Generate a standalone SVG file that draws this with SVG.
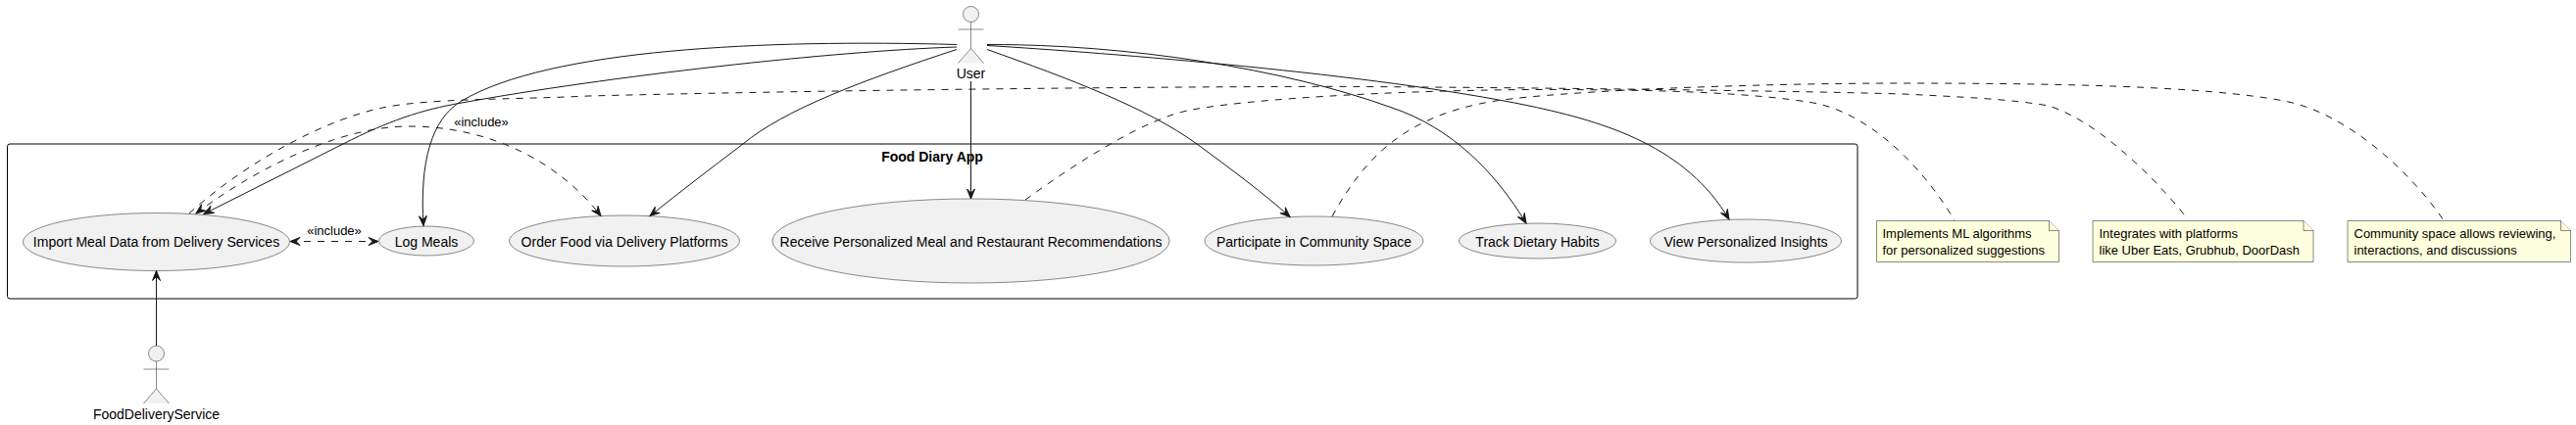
<svg xmlns="http://www.w3.org/2000/svg" width="2628" height="434" viewBox="0 0 2628 434">
<style>
text{font-family:"Liberation Sans",Arial,sans-serif;fill:#000;opacity:.999}
.uc{font-size:14px;text-anchor:middle}
.n{font-size:13px}
.e{fill:#F1F1F1;stroke:#181818;stroke-width:.5}
.a{fill:#F1F1F1;stroke:#181818;stroke-width:.5}
.l{fill:none;stroke:#181818;stroke-width:1}
.d{fill:none;stroke:#181818;stroke-width:1;stroke-dasharray:7 7}
.note{fill:#FEFFDD;stroke:#181818;stroke-width:.5}
</style>
<defs>
<marker id="h" markerUnits="userSpaceOnUse" markerWidth="14" markerHeight="12" viewBox="-11 -6 13 12" refX="0" refY="0" orient="auto-start-reverse"><path d="M0,0L-10,-4L-6,0L-10,4Z" fill="#181818" stroke="#181818" stroke-width="1"/></marker>
</defs>
<g id="boundary"><rect x="7.5" y="147" width="1887.5" height="158" rx="2.5" fill="none" stroke="#000" stroke-width="1"/><text x="951" y="165" font-size="14" font-weight="bold" text-anchor="middle">Food Diary App</text></g>
<g id="uc-import"><ellipse class="e" cx="159.5" cy="247" rx="136" ry="29.5"/><text class="uc" x="159.5" y="252">Import Meal Data from Delivery Services</text></g>
<g id="uc-log"><ellipse class="e" cx="435" cy="246" rx="48.5" ry="15"/><text class="uc" x="435" y="252">Log Meals</text></g>
<g id="uc-order"><ellipse class="e" cx="637" cy="246" rx="117.5" ry="26"/><text class="uc" x="637" y="252">Order Food via Delivery Platforms</text></g>
<g id="uc-receive"><ellipse class="e" cx="990.5" cy="246" rx="202.5" ry="43"/><text class="uc" x="990.5" y="252">Receive Personalized Meal and Restaurant Recommendations</text></g>
<g id="uc-participate"><ellipse class="e" cx="1340.5" cy="246" rx="111.5" ry="25"/><text class="uc" x="1340.5" y="252">Participate in Community Space</text></g>
<g id="uc-track"><ellipse class="e" cx="1568.5" cy="246" rx="80" ry="18"/><text class="uc" x="1568.5" y="252">Track Dietary Habits</text></g>
<g id="uc-view"><ellipse class="e" cx="1781" cy="246" rx="97.5" ry="22"/><text class="uc" x="1781" y="252">View Personalized Insights</text></g>
<g id="actor-user"><circle class="a" cx="990.5" cy="14.5" r="8"/><path class="a" d="M990.5,22.5V49.5M977.5,30H1003.5M977.5,64.5L990.5,49.5L1003.5,64.5" fill="none"/><text class="uc" x="990.5" y="80">User</text></g>
<g id="actor-food"><ellipse class="a" cx="159.5" cy="361" rx="8" ry="8"/><path class="a" d="M159.5,369V397M146.5,377H172.5M146.5,412L159.5,397L172.5,412" fill="none"/><text class="uc" x="159.5" y="428">FoodDeliveryService</text></g>
<g id="note-ml"><path class="note" d="M1914.5,225.5H2090.5L2100.5,235.5V267.5H1914.5Z"/><path class="note" d="M2090.5,225.5V235.5H2100.5"/><text class="n" x="1920.5" y="242.5">Implements ML algorithms</text><text class="n" x="1920.5" y="259.5">for personalized suggestions</text></g>
<g id="note-platforms"><path class="note" d="M2135,225.5H2350L2360,235.5V267.5H2135Z"/><path class="note" d="M2350,225.5V235.5H2360"/><text class="n" x="2141.5" y="242.5">Integrates with platforms</text><text class="n" x="2141.5" y="259.5">like Uber Eats, Grubhub, DoorDash</text></g>
<g id="note-community"><path class="note" d="M2395,225.5H2612.5L2622.5,235.5V267.5H2395Z"/><path class="note" d="M2612.5,225.5V235.5H2622.5"/><text class="n" x="2401.5" y="242.5">Community space allows reviewing,</text><text class="n" x="2401.5" y="259.5">interactions, and discussions</text></g>
<g id="connectors">
<path class="l" marker-end="url(#h)" d="M976,45.5C780,40 560,50 471,103C440,121.5 428,165 432,230.5"/>
<path class="l" marker-end="url(#h)" d="M976,48C850,52 620,78 471,105C430,112 395,124 350,147L208,218.5"/>
<path class="l" marker-end="url(#h)" d="M976,50.5C880,82 800,112 758,147C725,172 695,195 663,220.5"/>
<path class="l" stroke-width=".5" marker-end="url(#h)" d="M990.5,83V203"/>
<path class="l" marker-end="url(#h)" d="M1007,50.5C1090,80 1170,110 1221,147C1255,172 1290,198 1316,221.5"/>
<path class="l" marker-end="url(#h)" d="M1007,45.5C1150,45 1310,70 1420,110C1480,130 1525,175 1557,228"/>
<path class="l" marker-end="url(#h)" d="M1007,46.5C1130,54 1400,75 1560,108C1640,125 1720,150 1764,224"/>
<path class="d" marker-start="url(#h)" marker-end="url(#h)" d="M296,246.5H386"/>
<path class="d" marker-start="url(#h)" marker-end="url(#h)" d="M200,218C250,180 340,129 417,129C500,129 570,165 613,220.5"/>
<path class="d" d="M193,218C240,175 320,125 390,110C440,100 520,102 600,98C800,93 1100,89 1351,88.3C1500,89 1800,92 1942,96C2000,99 2050,101 2090,108C2135,122 2190,172 2229,220"/>
<path class="d" d="M1046,204C1100,165 1170,120 1216,112C1300,97 1500,90 1617,91.7C1700,92 1790,95 1850,105C1900,114 1955,160 1994,225"/>
<path class="d" d="M1359,221C1390,165 1430,118 1526,103C1600,92 1800,85 1942,85C2100,85 2250,88 2330,103C2390,114 2455,170 2493,225"/>
<path class="l" marker-end="url(#h)" d="M159.5,353V276.5"/>
</g>
<text x="491" y="129" font-size="13" text-anchor="middle">«include»</text>
<text x="341" y="240" font-size="13" text-anchor="middle">«include»</text>
</svg>
